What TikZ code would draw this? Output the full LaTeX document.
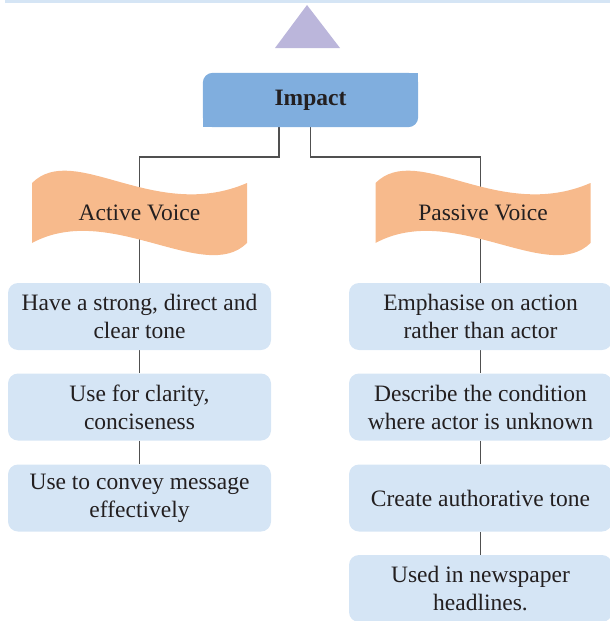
\documentclass[tikz,border=0pt]{standalone}
\usepackage{fontspec}
\setmainfont{Liberation Serif}
\usepackage{tikz}
\usetikzlibrary{positioning,backgrounds}
\definecolor{fond}{RGB}{213,229,245}
\definecolor{tete}{RGB}{128,174,222}
\definecolor{ruban}{RGB}{247,186,140}
\definecolor{lavande}{RGB}{187,182,219}
\definecolor{trait}{RGB}{80,80,80}
\definecolor{encre}{RGB}{35,31,32}

\tikzset{
  ribbon/.pic={
    \fill[ruban] (-107.5,-30) .. controls (-65,-72) and (15,10) .. (107.5,-30)
      -- (107.5,30) .. controls (65,72) and (-30,-12) .. (-107.5,30) -- cycle;
  }
}

\begin{document}
\begin{tikzpicture}[x=1pt,y=-1pt,
    every node/.style={font=\fontsize{23.5}{28}\selectfont,text=encre},
    headbox/.style={minimum width=215pt,minimum height=54pt,inner sep=0pt},
    idea/.style={fill=fond,rounded corners=10pt,minimum width=263pt,
      minimum height=67pt,align=center,inner sep=0pt},
    link/.style={draw=trait,line width=1.4pt}]
  \useasboundingbox (0,0) rectangle (610,621);
  % strip and pointer at the top
  \fill[fond] (5,0) rectangle (610,3);
  \fill[lavande] (307,5) -- (340,48) -- (275,48) -- cycle;
  % heading
  \node[headbox] (impact) at (310.5,100) {};
  \fill[tete,rounded corners=10pt] (impact.north west) rectangle (impact.south east);
  \fill[tete] (impact.north east) rectangle ++(-12,12);
  \fill[tete] (impact.south west) rectangle ++(12,-12);
  \node at (impact) {\textbf{Impact}};
  % the two voices
  \pic at (139.5,213) {ribbon};
  \node (av) at (139.5,213) {Active Voice};
  \pic at (483,213) {ribbon};
  \node (pv) at (483,213) {Passive Voice};
  % active voice points
  \node[idea] (a1) at (139.5,316.5) {Have a strong, direct and\\clear tone};
  \node[idea] (a2) at (139.5,407) {Use for clarity,\\conciseness};
  \node[idea] (a3) at (139.5,498) {Use to convey message\\effectively};
  % passive voice points
  \node[idea] (p1) at (480.5,316.5) {Emphasise on action\\rather than actor};
  \node[idea] (p2) at (480.5,407) {Describe the condition\\where actor is unknown};
  \node[idea] (p3) at (480.5,498) {Create authorative tone};
  \node[idea] (p4) at (480.5,588.5) {Used in newspaper\\headlines.};
  \begin{scope}[on background layer]
    \coordinate (il) at (279,127);
    \coordinate (jl) at (139.5,157);
    \coordinate (jr) at (480.5,157);
    \draw[link] (il) |- (jl) -- (a1.north);
    \draw[link] (impact.south) |- (jr) -- (p1.north);
    \foreach \u/\v in {a1/a2,a2/a3,p1/p2,p2/p3,p3/p4}
      \draw[link] (\u.south) -- (\v.north);
  \end{scope}
\end{tikzpicture}
\end{document}
